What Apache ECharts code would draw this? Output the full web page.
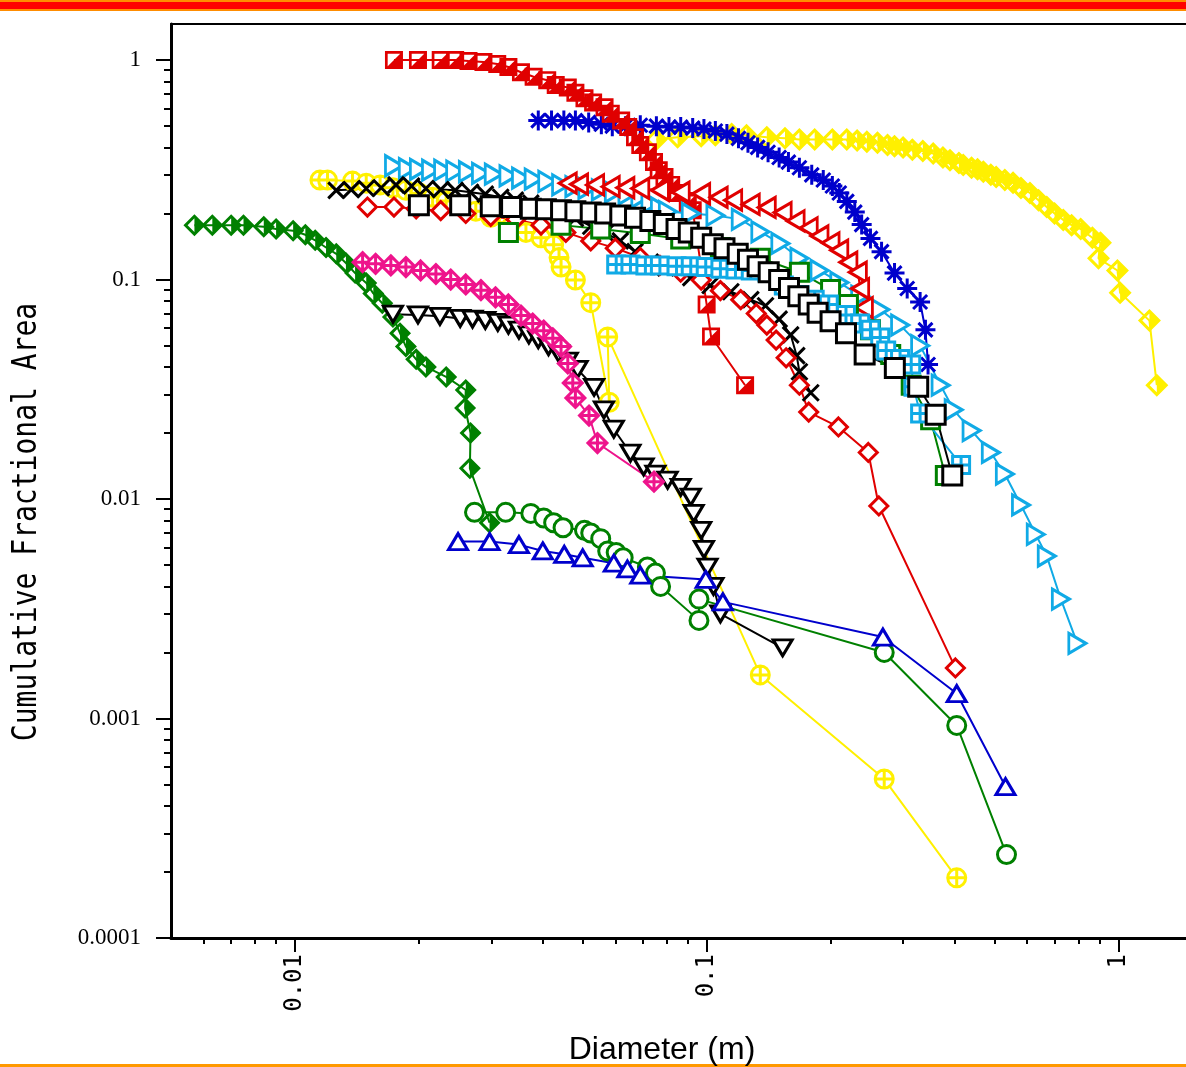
<!DOCTYPE html>
<html lang="en">
  <head>
    <meta charset="UTF-8" />
    <title>Cumulative Fractional Area</title>
    <script src="https://cdn.jsdelivr.net/npm/echarts@6.0.0/dist/echarts.min.js"></script>
    <style>
      html, body { margin: 0; padding: 0; background: #fff; }
    </style>
  </head>
  <body>
    <div id="main" style="width: 1186px; height: 1067px;"></div>
    <script type="text/javascript">
      // [diameter (m), cumulative fractional area]
      var redHalfSquare = [[0.0174,1.0],[0.0199,1.0],[0.0226,1.0],[0.0245,1.0],[0.0264,0.99],[0.0287,0.98],[0.031,0.96],[0.033,0.93],[0.0354,0.88],[0.038,0.84],[0.041,0.81],[0.043,0.77],[0.046,0.75],[0.048,0.71],[0.0505,0.67],[0.053,0.64],[0.0565,0.61],[0.0585,0.57],[0.062,0.53],[0.0645,0.495],[0.067,0.445],[0.069,0.41],[0.072,0.38],[0.0745,0.343],[0.0765,0.315],[0.079,0.293],[0.082,0.27],[0.085,0.248],[0.09,0.224],[0.0925,0.207],[0.1,0.077],[0.1025,0.055],[0.124,0.033]];
      var blueStar = [[0.039,0.53],[0.042,0.53],[0.045,0.53],[0.048,0.53],[0.0517,0.52],[0.0555,0.51],[0.059,0.50],[0.0635,0.50],[0.069,0.505],[0.0755,0.50],[0.081,0.495],[0.0865,0.495],[0.0925,0.49],[0.0985,0.485],[0.105,0.475],[0.112,0.46],[0.1195,0.44],[0.126,0.42],[0.133,0.40],[0.141,0.38],[0.15,0.36],[0.158,0.343],[0.168,0.323],[0.18,0.30],[0.192,0.284],[0.202,0.267],[0.21,0.248],[0.219,0.227],[0.229,0.203],[0.238,0.178],[0.25,0.154],[0.266,0.134],[0.286,0.107],[0.307,0.091],[0.33,0.079],[0.34,0.059],[0.345,0.041]];
      var yellowDiamond = [[0.0755,0.435],[0.085,0.445],[0.097,0.45],[0.105,0.455],[0.115,0.46],[0.125,0.455],[0.14,0.445],[0.155,0.44],[0.168,0.435],[0.183,0.435],[0.202,0.435],[0.219,0.435],[0.232,0.43],[0.245,0.425],[0.26,0.42],[0.275,0.41],[0.286,0.405],[0.30,0.40],[0.316,0.39],[0.335,0.385],[0.355,0.375],[0.375,0.36],[0.39,0.35],[0.41,0.34],[0.42,0.333],[0.44,0.323],[0.455,0.318],[0.47,0.31],[0.49,0.3],[0.505,0.293],[0.53,0.284],[0.555,0.276],[0.58,0.261],[0.61,0.248],[0.64,0.23],[0.67,0.214],[0.70,0.2],[0.735,0.187],[0.77,0.177],[0.81,0.17],[0.865,0.155],[0.905,0.147],[0.895,0.125],[0.995,0.11],[1.01,0.087],[1.19,0.065],[1.24,0.033]];
      var cyanRight = [[0.0174,0.33],[0.0188,0.32],[0.02,0.318],[0.0214,0.315],[0.0229,0.315],[0.0245,0.312],[0.0263,0.31],[0.0283,0.305],[0.0304,0.302],[0.033,0.297],[0.0354,0.29],[0.038,0.287],[0.041,0.28],[0.0443,0.27],[0.0477,0.265],[0.0513,0.26],[0.0553,0.256],[0.0595,0.25],[0.0642,0.245],[0.069,0.237],[0.073,0.223],[0.077,0.212],[0.0805,0.204],[0.0915,0.2],[0.105,0.196],[0.121,0.188],[0.135,0.165],[0.151,0.146],[0.168,0.125],[0.188,0.11],[0.21,0.097],[0.236,0.084],[0.264,0.073],[0.295,0.062],[0.33,0.05],[0.37,0.033],[0.398,0.0255],[0.44,0.0205],[0.49,0.0163],[0.53,0.013],[0.58,0.0094],[0.63,0.0069],[0.67,0.0055],[0.725,0.0035],[0.795,0.0022]];
      var blackCross = [[0.0126,0.255],[0.0137,0.257],[0.0149,0.26],[0.0162,0.262],[0.0176,0.27],[0.0192,0.267],[0.0208,0.26],[0.0226,0.257],[0.0245,0.255],[0.0267,0.25],[0.029,0.245],[0.0316,0.237],[0.0343,0.23],[0.0374,0.223],[0.0407,0.213],[0.0443,0.202],[0.048,0.19],[0.0523,0.175],[0.0567,0.163],[0.0617,0.15],[0.067,0.134],[0.073,0.12],[0.0795,0.113],[0.0915,0.102],[0.102,0.094],[0.1145,0.088],[0.128,0.081],[0.139,0.076],[0.15,0.066],[0.16,0.056],[0.1655,0.045],[0.168,0.038],[0.179,0.0305]];
      var redDiamond = [[0.015,0.214],[0.0174,0.214],[0.0197,0.21],[0.0226,0.206],[0.026,0.2],[0.0299,0.194],[0.0344,0.188],[0.0396,0.177],[0.0455,0.164],[0.0523,0.15],[0.06,0.139],[0.069,0.126],[0.077,0.116],[0.0865,0.108],[0.097,0.0995],[0.108,0.089],[0.121,0.081],[0.132,0.07],[0.14,0.062],[0.1475,0.053],[0.156,0.044],[0.168,0.033],[0.177,0.0249],[0.209,0.0213],[0.247,0.0163],[0.262,0.0093],[0.402,0.0017]];
      var blackSquare = [[0.02,0.218],[0.0252,0.218],[0.0299,0.216],[0.0335,0.214],[0.0374,0.21],[0.0407,0.209],[0.0443,0.207],[0.048,0.205],[0.0523,0.202],[0.0567,0.2],[0.0617,0.196],[0.067,0.191],[0.073,0.185],[0.0787,0.179],[0.0845,0.17],[0.0905,0.164],[0.097,0.155],[0.1035,0.145],[0.1105,0.139],[0.119,0.131],[0.126,0.123],[0.133,0.115],[0.1415,0.108],[0.15,0.0995],[0.1585,0.0915],[0.167,0.084],[0.177,0.077],[0.186,0.0705],[0.2,0.0645],[0.218,0.057],[0.242,0.0455],[0.2865,0.0395],[0.3265,0.0325],[0.36,0.0242],[0.395,0.0128]];
      var redLeft = [[0.046,0.275],[0.049,0.272],[0.0536,0.27],[0.0585,0.265],[0.0635,0.262],[0.069,0.26],[0.077,0.255],[0.0865,0.25],[0.097,0.246],[0.107,0.237],[0.116,0.23],[0.128,0.22],[0.14,0.213],[0.153,0.202],[0.1645,0.185],[0.177,0.172],[0.188,0.158],[0.2,0.147],[0.21,0.136],[0.221,0.12],[0.233,0.108],[0.236,0.091],[0.241,0.0745]];
      var greenSquare = [[0.033,0.164],[0.0443,0.177],[0.0553,0.17],[0.069,0.162],[0.0865,0.153],[0.108,0.14],[0.135,0.125],[0.168,0.108],[0.2,0.09],[0.221,0.077],[0.25,0.059],[0.28,0.0455],[0.314,0.033],[0.35,0.023],[0.38,0.0128]];
      var cyanSquarePlus = [[0.0603,0.117],[0.0653,0.117],[0.071,0.116],[0.077,0.116],[0.0845,0.115],[0.0915,0.115],[0.0995,0.114],[0.108,0.112],[0.1175,0.111],[0.128,0.11],[0.1405,0.108],[0.154,0.094],[0.168,0.085],[0.183,0.081],[0.198,0.077],[0.218,0.069],[0.236,0.063],[0.25,0.059],[0.264,0.0545],[0.273,0.0475],[0.295,0.0435],[0.314,0.041],[0.318,0.0325],[0.33,0.0245],[0.415,0.0143]];
      var yellowCirclePlus = [[0.0115,0.284],[0.012,0.284],[0.0138,0.281],[0.0149,0.275],[0.0161,0.27],[0.0173,0.262],[0.0186,0.255],[0.0201,0.247],[0.0216,0.237],[0.0233,0.228],[0.0253,0.216],[0.0275,0.205],[0.0299,0.192],[0.0335,0.174],[0.0364,0.164],[0.0396,0.155],[0.0425,0.144],[0.0438,0.126],[0.0443,0.114],[0.048,0.0995],[0.0523,0.0785],[0.058,0.0276],[0.0575,0.0548],[0.135,0.00158],[0.27,0.00053],[0.405,0.000188]];
      var greenHalfDiamond = [[0.0057,0.177],[0.0063,0.177],[0.007,0.177],[0.0075,0.177],[0.0084,0.174],[0.009,0.17],[0.0099,0.167],[0.0106,0.16],[0.0112,0.151],[0.0119,0.14],[0.0126,0.131],[0.0133,0.119],[0.014,0.107],[0.0149,0.0965],[0.0155,0.0865],[0.0163,0.078],[0.0173,0.0675],[0.018,0.057],[0.0186,0.0495],[0.0197,0.0433],[0.0208,0.04],[0.0233,0.036],[0.026,0.0314],[0.0259,0.026],[0.0267,0.02],[0.0266,0.0138],[0.0297,0.0078]];
      var pinkDiamondPlus = [[0.0146,0.12],[0.0157,0.118],[0.0171,0.116],[0.0186,0.114],[0.0202,0.11],[0.022,0.106],[0.0239,0.1],[0.026,0.095],[0.0283,0.0895],[0.0307,0.083],[0.033,0.077],[0.0354,0.0685],[0.0378,0.063],[0.0402,0.0585],[0.0423,0.054],[0.0443,0.0495],[0.046,0.0415],[0.0473,0.0338],[0.048,0.0289],[0.0518,0.024],[0.0543,0.018],[0.0745,0.012]];
      var blackDown = [[0.0173,0.0695],[0.0199,0.069],[0.0225,0.068],[0.0252,0.0665],[0.027,0.066],[0.029,0.0652],[0.0311,0.0638],[0.033,0.062],[0.035,0.0588],[0.037,0.0559],[0.039,0.0532],[0.0413,0.0495],[0.0438,0.0458],[0.046,0.0425],[0.0486,0.039],[0.0533,0.0323],[0.0563,0.0255],[0.0595,0.0208],[0.0653,0.0162],[0.0703,0.014],[0.0751,0.013],[0.0804,0.0122],[0.0865,0.0113],[0.0915,0.0102],[0.093,0.0086],[0.097,0.0072],[0.0985,0.0059],[0.1005,0.0049],[0.1039,0.004],[0.108,0.003],[0.153,0.0021]];
      var greenCircle = [[0.0273,0.0087],[0.0325,0.0087],[0.0374,0.0086],[0.0402,0.0082],[0.0425,0.0078],[0.0448,0.0074],[0.0505,0.0072],[0.0523,0.007],[0.0553,0.0066],[0.0575,0.0058],[0.0603,0.0057],[0.0627,0.0054],[0.0718,0.0049],[0.0751,0.0046],[0.0773,0.004],[0.0958,0.0028],[0.0958,0.0035],[0.27,0.002],[0.405,0.00093],[0.535,0.00024]];
      var blueUp = [[0.0249,0.0064],[0.0297,0.0064],[0.035,0.0062],[0.04,0.0058],[0.0451,0.0056],[0.05,0.0054],[0.0595,0.0051],[0.0642,0.0048],[0.069,0.0045],[0.0995,0.0043],[0.1095,0.0034],[0.268,0.00235],[0.405,0.0013],[0.532,0.00049]];

      // axis ticks (decades) and labels
      var xMajor = [0.01, 0.1, 1];
      var xLabels = ["0.01", "0.1", "1"];
      var yMajor = [0.0001, 0.001, 0.01, 0.1, 1];
      var yLabels = ["0.0001", "0.001", "0.01", "0.1", "1"];
      var xRange = [0.005, 1.46];
      var yRange = [0.0001, 1.46];

      var lg = Math.log10;

      // minor ticks 2..9 inside each decade
      function minorTicks(lo, hi) {
        var out = [];
        for (var e = Math.floor(lg(lo)); e <= Math.ceil(lg(hi)); e++) {
          for (var k = 2; k <= 9; k++) {
            var v = k * Math.pow(10, e);
            if (v > lo && v < hi) out.push(lg(v));
          }
        }
        return out;
      }

      var SYM = {
        halfSquare: "path://M0 0H100V100H0Z M15 15V85H85V15Z M100 0L100 100L0 100Z",
        halfDiamond: "path://M50 0L100 50L50 100L0 50Z M50 19L19 50L50 81L81 50Z M50 0L100 50L50 100Z",
        star: "path://M50 0V100M0 50H100M15 15L85 85M85 15L15 85",
        cross: "path://M0 0L100 100M100 0L0 100",
        circlePlus: "path://M50 0A50 50 0 1 1 50 100A50 50 0 1 1 50 0Z M50 0V100M0 50H100",
        squarePlus: "path://M0 0H100V100H0Z M50 0V100M0 50H100",
        diamondPlus: "path://M50 0L100 50L50 100L0 50Z M50 0V100M0 50H100"
      };

      // kind: solid = filled path, hollow = white fill + coloured border, stroke = lines only
      function mk(name, pts, color, symbol, size, kind, rotate) {
        var item;
        if (kind === "solid") item = { color: color, borderWidth: 0 };
        else if (kind === "stroke") item = { color: color, borderColor: color, borderWidth: 3 };
        else item = { color: "#fff", borderColor: color, borderWidth: 3 };
        return {
          name: name,
          type: "line",
          data: pts.map(function (p) { return [lg(p[0]), lg(p[1])]; }),
          symbol: symbol,
          symbolSize: size,
          symbolRotate: rotate || 0,
          showAllSymbol: true,
          lineStyle: { color: color, width: 2 },
          itemStyle: item,
          emphasis: { disabled: true },
          silent: true,
          animation: false
        };
      }

      var RED = "#e00000", BLUE = "#0000cc", YELLOW = "#fff000", CYAN = "#10aae6",
          GREEN = "#008000", PINK = "#ee148c", BLACK = "#000";

      var series = [
        mk("yellowCirclePlus", yellowCirclePlus, YELLOW, SYM.circlePlus, 18, "hollow"),
        mk("greenHalfDiamond", greenHalfDiamond, GREEN, SYM.halfDiamond, 22, "solid"),
        mk("blackDown", blackDown, BLACK, "triangle", [19, 16], "hollow", 180),
        mk("pinkDiamondPlus", pinkDiamondPlus, PINK, SYM.diamondPlus, 19, "hollow"),
        mk("greenCircle", greenCircle, GREEN, "circle", 18, "hollow"),
        mk("blueUp", blueUp, BLUE, "triangle", [19, 16], "hollow"),
        mk("yellowDiamond", yellowDiamond, YELLOW, SYM.halfDiamond, 23, "solid"),
        mk("blueStar", blueStar, BLUE, SYM.star, 20, "stroke"),
        mk("redHalfSquare", redHalfSquare, RED, SYM.halfSquare, 18, "solid"),
        mk("cyanRight", cyanRight, CYAN, "triangle", [20, 17], "hollow", -90),
        mk("redLeft", redLeft, RED, "triangle", [20, 17], "hollow", 90),
        mk("blackCross", blackCross, BLACK, SYM.cross, 16, "stroke"),
        mk("redDiamond", redDiamond, RED, "diamond", 18, "hollow"),
        mk("greenSquare", greenSquare, GREEN, "rect", 18, "hollow"),
        mk("cyanSquarePlus", cyanSquarePlus, CYAN, SYM.squarePlus, 17, "hollow"),
        mk("blackSquare", blackSquare, BLACK, "rect", 19, "hollow")
      ];

      var axisLineStyle = { color: "#000", width: 3 };
      var tickStyle = { color: "#000", width: 2 };

      function labelFor(majors, labels) {
        return function (v) {
          for (var i = 0; i < majors.length; i++) {
            if (Math.abs(lg(majors[i]) - v) < 1e-6) return labels[i];
          }
          return "";
        };
      }

      var xMin = lg(xRange[0]), xMax = lg(xRange[1]);
      var yMin = lg(yRange[0]), yMax = lg(yRange[1]);

      var option = {
        backgroundColor: "#fff",
        animation: false,
        grid: { left: 171, right: 0, top: 24, bottom: 129, containLabel: false },
        xAxis: [
          {
            type: "value", min: xMin, max: xMax, position: "bottom",
            axisLine: { onZero: false, lineStyle: axisLineStyle },
            axisTick: { customValues: xMajor.map(lg), length: 14, lineStyle: tickStyle },
            axisLabel: {
              customValues: xMajor.map(lg), formatter: labelFor(xMajor, xLabels),
              rotate: 90, margin: 16,
              color: "#000", fontFamily: "DejaVu Sans Mono", fontSize: 24
            },
            splitLine: { show: false }
          },
          {
            type: "value", min: xMin, max: xMax, position: "bottom",
            axisLine: { show: false, onZero: false },
            axisTick: { customValues: minorTicks(xRange[0], xRange[1]), length: 6, lineStyle: tickStyle },
            axisLabel: { show: false },
            splitLine: { show: false }
          },
          {
            type: "value", min: xMin, max: xMax, position: "top",
            axisLine: { onZero: false, lineStyle: { color: "#000", width: 2 } },
            axisTick: { show: false }, axisLabel: { show: false },
            splitLine: { show: false }
          }
        ],
        yAxis: [
          {
            type: "value", min: yMin, max: yMax, position: "left",
            axisLine: { onZero: false, lineStyle: axisLineStyle },
            axisTick: { customValues: yMajor.map(lg), length: 15, lineStyle: tickStyle },
            axisLabel: {
              customValues: yMajor.map(lg), formatter: labelFor(yMajor, yLabels),
              margin: 30, color: "#000",
              fontFamily: "Liberation Serif", fontSize: 23
            },
            splitLine: { show: false }
          },
          {
            type: "value", min: yMin, max: yMax, position: "left",
            axisLine: { show: false, onZero: false },
            axisTick: { customValues: minorTicks(yRange[0], yRange[1]), length: 7, lineStyle: tickStyle },
            axisLabel: { show: false },
            splitLine: { show: false }
          }
        ],
        graphic: [
          { type: "rect", shape: { x: 0, y: 0, width: 1186, height: 11 }, style: { fill: "#ff8c00" } },
          { type: "rect", shape: { x: 0, y: 2, width: 1186, height: 7 }, style: { fill: "#ff0000" } },
          { type: "rect", shape: { x: 0, y: 1064, width: 1186, height: 3 }, style: { fill: "#ff9900" } },
          {
            type: "text", x: 27, y: 522, rotation: Math.PI / 2, scaleY: 1.2,
            style: {
              text: "Cumulative Fractional Area", fill: "#000",
              font: "28px 'DejaVu Sans Mono'", align: "center", verticalAlign: "middle"
            }
          },
          {
            type: "text", x: 662, y: 1050,
            style: {
              text: "Diameter (m)", fill: "#000",
              font: "32px 'Liberation Sans'", align: "center", verticalAlign: "middle"
            }
          }
        ],
        series: series
      };

      var myChart = echarts.init(document.getElementById("main"));
      myChart.setOption(option);
    </script>
  </body>
</html>
